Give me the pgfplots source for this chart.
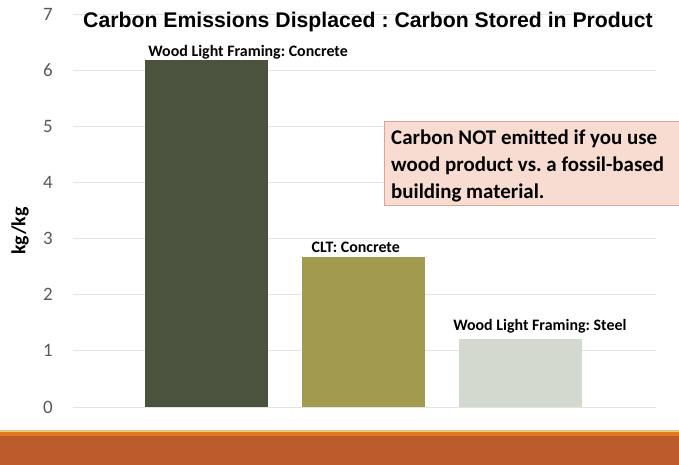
\documentclass[border=0pt]{standalone}
\usepackage{pgfplots}
\pgfplotsset{compat=1.18}
\usepackage{fontspec}
\setmainfont{Carlito}
\newfontfamily\arialfont{Liberation Sans}
\definecolor{barA}{HTML}{4B533F}
\definecolor{barB}{HTML}{A29B4F}
\definecolor{barC}{HTML}{D4D9CF}
\definecolor{boxfill}{HTML}{F8DCD2}
\definecolor{boxedge}{HTML}{D9A595}
\definecolor{bandA}{HTML}{EBC48A}
\definecolor{bandB}{HTML}{E07A1C}
\definecolor{bandC}{HTML}{BC5A2B}
\definecolor{ticktext}{HTML}{595959}
\definecolor{gridc}{HTML}{E3E3E3}
\frenchspacing
\begin{document}
\begin{tikzpicture}[x=1bp,y=1bp]
\useasboundingbox (0,0) rectangle (679,465);
\fill[white] (0,0) rectangle (679,465);
\fill[bandC] (0,0) rectangle (679,30);
\fill[bandB] (0,29) rectangle (679,33);
\fill[bandA] (0,33) rectangle (679,34.5);
\begin{axis}[at={(73bp,58bp)}, anchor=south west, scale only axis,
  width=583bp, height=393bp,
  xmin=-0.85, xmax=2.86, ymin=0, ymax=7, ytick={0,1,2,3,4,5,6,7}, xtick=\empty,
  axis line style={draw=none}, ymajorgrids, grid style={gridc, line width=0.8bp},
  major tick length=0pt,
  /pgf/number format/assume math mode=true,
  yticklabel style={font=\fontsize{19}{19}\selectfont, text=ticktext, anchor=east, inner sep=0pt, xshift=-20bp},
  ybar, bar width=123bp, bar shift=0pt,
  nodes near coords, point meta=explicit symbolic,
  every node near coord/.style={font=\bfseries\fontsize{16}{16}\selectfont, text=black, anchor=base, inner sep=0pt},
  clip=false,
]
\addplot[fill=barA, draw=none, every node near coord/.append style={xshift=41.5bp, yshift=4bp}]
  coordinates {(0,6.18) [Wood Light Framing: Concrete]};
\addplot[fill=barB, draw=none, every node near coord/.append style={xshift=-8bp, yshift=5bp}]
  coordinates {(1,2.67) [CLT: Concrete]};
\addplot[fill=barC, draw=none, every node near coord/.append style={xshift=19bp, yshift=9bp}]
  coordinates {(2,1.21) [Wood Light Framing: Steel]};
\end{axis}
\node[font=\arialfont\bfseries\fontsize{21.3}{21.3}\selectfont, anchor=base] at (368,437)
  {Carbon Emissions Displaced : Carbon Stored in Product};
\node[rotate=90, font=\bfseries\fontsize{20}{20}\selectfont] at (20,234) {kg/kg};
\draw[fill=boxfill, draw=boxedge, line width=1bp] (384,259) rectangle (690,343);
\node[anchor=base west, align=left, inner sep=0pt, font=\bfseries\fontsize{21}{27.5}\selectfont] at (391,266)
  {Carbon NOT emitted if you use\\wood product vs. a fossil-based\\building material.};
\end{tikzpicture}
\end{document}
